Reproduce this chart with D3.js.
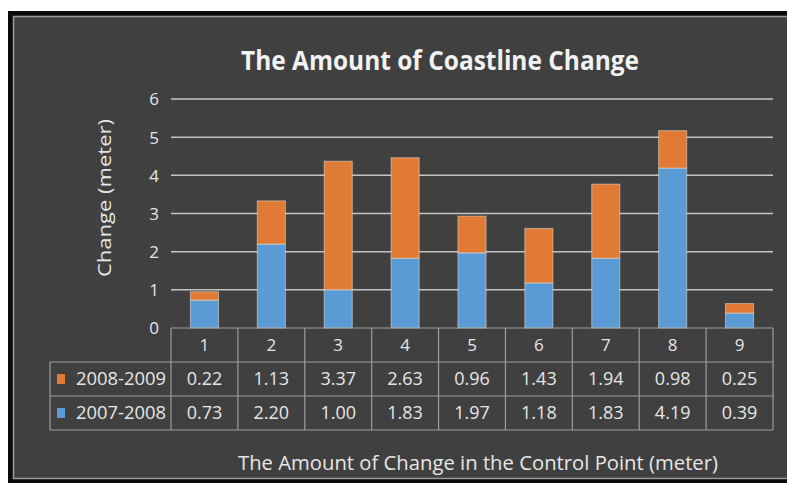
<!DOCTYPE html>
<html><head><meta charset="utf-8">
<script src="https://cdn.jsdelivr.net/npm/d3@7"></script>
<style>body{margin:0;background:#fff;}svg{display:block;}</style>
</head><body><svg id="c" width="787" height="483"></svg>
<script>
const categories = ["1","2","3","4","5","6","7","8","9"];
const series2007 = [0.73,2.20,1.00,1.83,1.97,1.18,1.83,4.19,0.39];
const series2008 = [0.22,1.13,3.37,2.63,0.96,1.43,1.94,0.98,0.25];
const seriesNames = ["2008-2009","2007-2008"];
const yTicks = [0,1,2,3,4,5,6];
const titleText = "The Amount of Coastline Change";
const yTitle = "Change (meter)";
const xTitle = "The Amount of Change in the Control Point (meter)";

const colors = {"2007-2008":"#5b9bd5","2008-2009":"#e07a34"};
const font = "'Open Sans', sans-serif";
const svg = d3.select("#c");

// frame
svg.append("rect").attr("x",8).attr("y",11).attr("width",779).attr("height",472).attr("fill","#0a0a0a");
svg.append("rect").attr("x",13.5).attr("y",16.5).attr("width",775).attr("height",462).attr("fill","#404040").attr("stroke","#9a9a9a").attr("stroke-width",1.5);

const x = d3.scaleBand().domain(categories).range([171,773]).padding(0);
const y = d3.scaleLinear().domain([0,6]).range([328,99]);

// gridlines
svg.append("g").selectAll("line").data(yTicks.filter(t=>t>0)).join("line")
  .attr("x1",171).attr("x2",773).attr("y1",d=>y(d)).attr("y2",d=>y(d))
  .attr("stroke","#c4c4c4").attr("stroke-width",1.5);

// y axis labels via d3 axis
const yAxis = svg.append("g").attr("transform","translate(159,0)")
  .call(d3.axisLeft(y).tickValues(yTicks).tickSize(0).tickPadding(0).tickFormat(d3.format("d")));
yAxis.select(".domain").remove();
yAxis.selectAll("text").attr("fill","#e6e6e6").style("font-family",font).style("font-size","17px").attr("dy","0.35em");

// stacked bars
const data = categories.map((c,i)=>({cat:c,"2007-2008":series2007[i],"2008-2009":series2008[i]}));
const stack = d3.stack().keys(["2007-2008","2008-2009"])(data);
const bw = x.bandwidth()*0.42;
const g = svg.append("g");
stack.forEach(layer=>{
  g.selectAll(null).data(layer).join("rect")
    .attr("x",d=>x(d.data.cat)+(x.bandwidth()-bw)/2)
    .attr("width",bw)
    .attr("y",d=>y(d[1]))
    .attr("height",d=>y(d[0])-y(d[1]))
    .attr("fill",colors[layer.key])
    .attr("stroke","rgba(235,225,215,0.55)").attr("stroke-width",1);
});

// data table
const tblTop=328, rowH=34, legendLeft=50;
const tcol="#9c9c9c";
const tg = svg.append("g");
[[171,tblTop],[legendLeft,tblTop+rowH],[legendLeft,tblTop+2*rowH],[legendLeft,tblTop+3*rowH]].forEach(([x0,yy])=>{
  tg.append("line").attr("x1",x0).attr("x2",773).attr("y1",yy).attr("y2",yy).attr("stroke",tcol).attr("stroke-width",1.2);
});
categories.forEach(c=>{
  tg.append("line").attr("x1",x(c)).attr("x2",x(c)).attr("y1",tblTop).attr("y2",tblTop+3*rowH).attr("stroke",tcol).attr("stroke-width",1.2);
});
tg.append("line").attr("x1",773).attr("x2",773).attr("y1",tblTop).attr("y2",tblTop+3*rowH).attr("stroke",tcol).attr("stroke-width",1.2);
tg.append("line").attr("x1",legendLeft).attr("x2",legendLeft).attr("y1",tblTop+rowH).attr("y2",tblTop+3*rowH).attr("stroke",tcol).attr("stroke-width",1.2);

tg.selectAll(null).data(categories).join("text")
  .attr("x",d=>x(d)+x.bandwidth()/2).attr("y",tblTop+rowH/2).attr("dy","0.36em")
  .attr("text-anchor","middle").attr("fill","#e6e6e6").style("font-family",font).style("font-size","17px").text(d=>d);

const rows = [{name:seriesNames[0],vals:series2008},{name:seriesNames[1],vals:series2007}];
rows.forEach((r,ri)=>{
  const cy = tblTop+rowH*(ri+1)+rowH/2;
  tg.selectAll(null).data(r.vals).join("text")
    .attr("x",(d,i)=>x(categories[i])+x.bandwidth()/2).attr("y",cy).attr("dy","0.36em")
    .attr("text-anchor","middle").attr("fill","#e6e6e6").style("font-family",font).style("font-size","18px")
    .text(d=>d.toFixed(2));
  tg.append("rect").attr("x",57).attr("y",cy-5).attr("width",8).attr("height",10).attr("fill",colors[r.name]);
  tg.append("text").attr("x",76).attr("y",cy).attr("dy","0.36em").attr("fill","#e6e6e6")
    .style("font-family",font).style("font-size","18px").attr("textLength",90).attr("lengthAdjust","spacingAndGlyphs").text(r.name);
});

// titles
svg.append("text").attr("x",440).attr("y",61).attr("dy","0.35em").attr("text-anchor","middle")
  .attr("fill","#f2f2f2").style("font-family",font).style("font-weight","bold").style("font-size","26px")
  .attr("textLength",398).attr("lengthAdjust","spacingAndGlyphs").text(titleText);
svg.append("text").attr("transform","translate(104,198) rotate(-90)").attr("dy","0.35em").attr("text-anchor","middle")
  .attr("fill","#e6e6e6").style("font-family",font).style("font-size","19px")
  .attr("textLength",158).attr("lengthAdjust","spacingAndGlyphs").text(yTitle);
svg.append("text").attr("x",478).attr("y",463).attr("dy","0.35em").attr("text-anchor","middle")
  .attr("fill","#e6e6e6").style("font-family",font).style("font-size","20px")
  .attr("textLength",480).attr("lengthAdjust","spacingAndGlyphs").text(xTitle);
</script></body></html>
